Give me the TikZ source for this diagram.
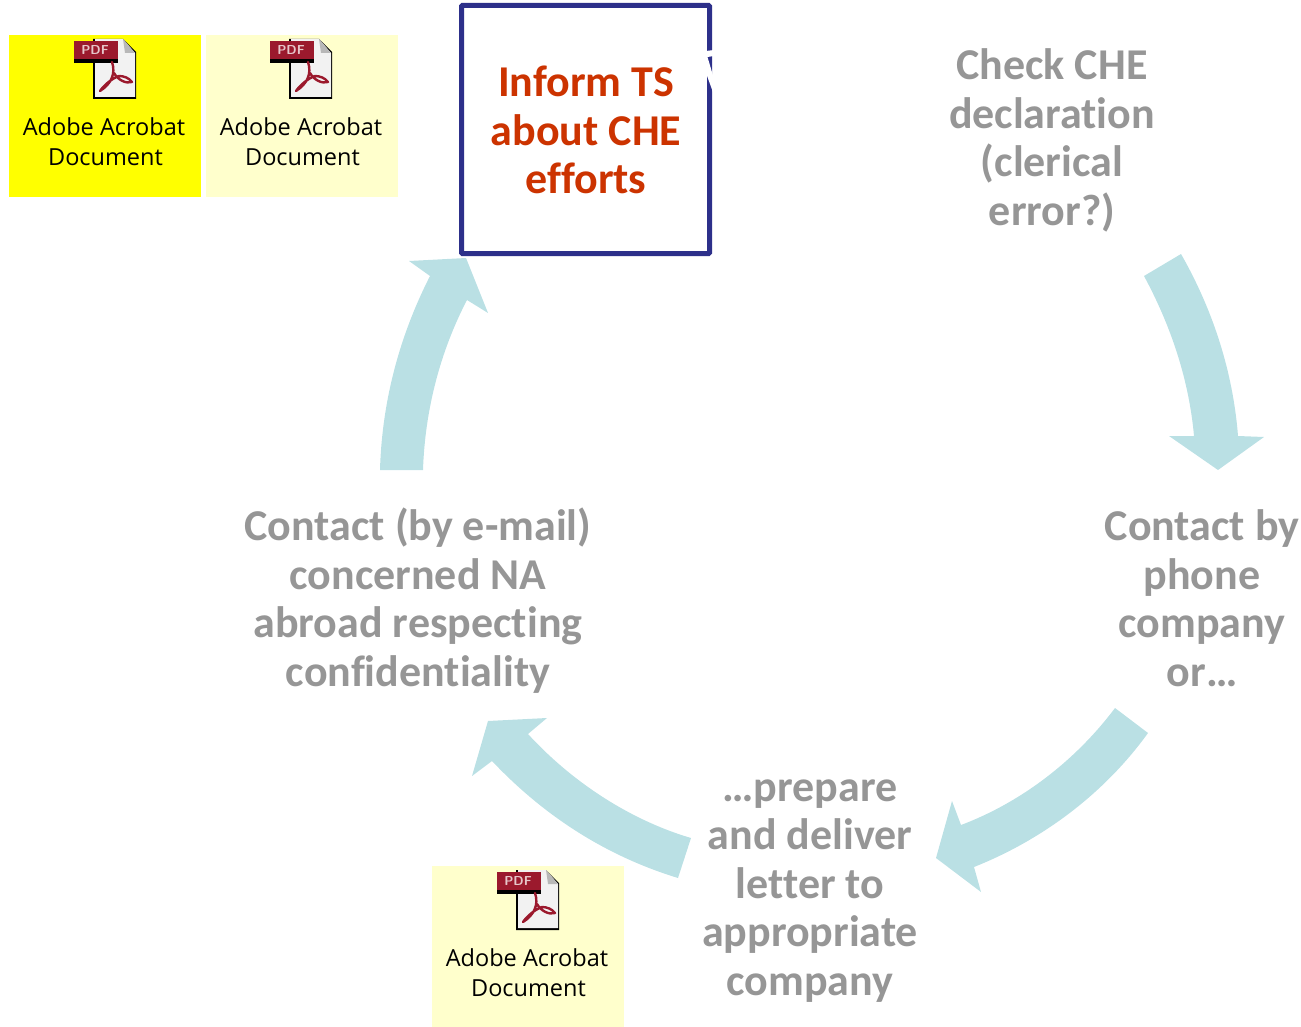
\documentclass[tikz,border=0pt]{standalone}
\usepackage{fontspec}
\setmainfont[Ligatures=NoCommon]{Carlito}
\newfontfamily\iconfont{Open Sans}
\definecolor{greytxt}{RGB}{150,150,150}
\definecolor{tealarrow}{RGB}{186,224,228}
\definecolor{boxblue}{RGB}{45,48,138}
\definecolor{redtxt}{RGB}{204,51,0}
\definecolor{paleyellow}{RGB}{255,255,204}
\definecolor{pureyellow}{RGB}{255,255,0}
\definecolor{pdfred}{RGB}{155,25,45}
\tikzset{
  x=1pt,y=-1pt,
  steptext/.style={font=\fontsize{44}{48.5}\selectfont\bfseries,text=greytxt,align=center,inner sep=0pt},
  arc arrow/.style={fill=tealarrow,draw=none},
  iconlabel/.style={font=\iconfont\fontsize{23.5}{30}\selectfont,align=center,inner sep=0pt,text=black},
  pics/pdficon/.style={code={
    \fill[black] (2,1) -- (2,61) -- (45,61) -- (45,14) -- (32,1) -- cycle;
    \fill[white!95!black] (4,1) -- (4,59) -- (44,59) -- (44,15) -- (32,1) -- cycle;
    \fill[white!72!black] (32,1) -- (44,15) -- (34,15) -- cycle;
    \fill[black] (-17,3) rectangle (27,25);
    \fill[pdfred] (-17,3) rectangle (27,21);
    \node[inner sep=0pt,text=white!75!pdfred,font=\sffamily\bfseries\fontsize{13}{13}\selectfont] at (4,12) {PDF};
    \draw[pdfred,line width=2.4pt,line join=round,line cap=round]
      (21,24) .. controls (25,36) and (20,46) .. (9,53) .. controls (14,46) and (22,40) .. (28,38) .. controls (33,38) and (38,40) .. (41,44) .. controls (35,46) and (27,42) .. (23,35);
  }}
}
\begin{document}
\begin{tikzpicture}
\useasboundingbox (0,0) rectangle (1301,1027);
% document tiles
\fill[pureyellow] (9,35) rectangle (201,197);
\fill[paleyellow] (206,35) rectangle (398,197);
\fill[paleyellow] (432,866) rectangle (624,1027);
\pic at (91,38) {pdficon};
\pic at (287,38) {pdficon};
\pic at (514,869) {pdficon};
\node[iconlabel] (doca) at (104,142) {Adobe Acrobat\\\hspace*{3pt}Document};
\node[iconlabel] (docb) at (301,142) {Adobe Acrobat\\\hspace*{3pt}Document};
\node[iconlabel] (docc) at (527,973) {Adobe Acrobat\\\hspace*{3pt}Document};
% inform box
\node[draw=boxblue,line width=5pt,rounded corners=1pt,fill=white,minimum width=248pt,minimum height=248pt,inner sep=0pt] (inform) at (585.5,129.5) {};
\node[font=\fontsize{44}{48.5}\selectfont\bfseries,text=redtxt,align=center,inner sep=0pt] (informtext) at (586,130) {Inform TS\\about CHE\\efforts};
\fill[white] (706,51) -- (714,50) -- (714,56) -- (707.5,57) -- (714,79) -- (714,95) -- (706,73) -- cycle;
% step texts
\node[steptext] (check) at (1052,140.5) {Check CHE\\declaration\\(clerical\\error?)};
\node[steptext] (phone) at (1202,598) {Contact by\\phone\\company\\or…};
\node[steptext] (letter) at (810,891) {…prepare\\and deliver\\letter to\\appropriate\\company};
\node[steptext] (mail) at (418,600.5) {Contact (by e-mail)\\concerned NA\\abroad respecting\\confidentiality};
% cycle arrows
\fill[arc arrow] (1144,276) -- (1181,254) .. controls (1213,310) and (1233,372) .. (1238,436) -- (1264,437) -- (1218,470) -- (1169,436) -- (1194,436) .. controls (1189,380) and (1171,326) .. (1144,276) -- cycle;
\fill[arc arrow] (1115,708) -- (1148,733) .. controls (1104,794) and (1042,840) .. (974,867) -- (981,892) -- (936,858) -- (952,801) -- (961,825) .. controls (1022,802) and (1076,760) .. (1115,708) -- cycle;
\fill[arc arrow] (691,838) -- (678,878) .. controls (606,856) and (544,816) .. (492,761) -- (472,776) -- (488,721) -- (547,718) -- (528,734) .. controls (572,782) and (630,820) .. (691,838) -- cycle;
\fill[arc arrow] (380,470) .. controls (382,400) and (400,335) .. (430,276) -- (409,261) -- (466,258) -- (488,313) -- (467,300) .. controls (440,352) and (425,410) .. (423,470) -- cycle;
\end{tikzpicture}
\end{document}
